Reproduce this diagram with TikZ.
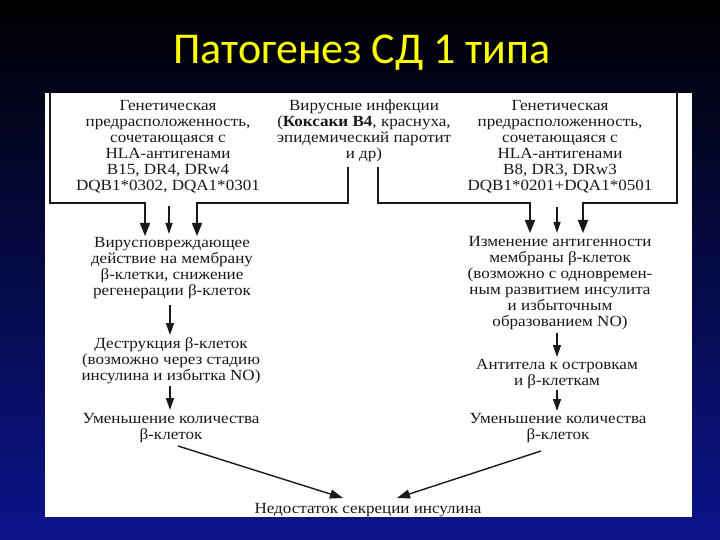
\documentclass[tikz,border=0pt]{standalone}
\usepackage{fontspec}
\setmainfont{Liberation Serif}
\newfontfamily\scanfont[FakeStretch=1.1]{Liberation Serif}
\newfontfamily\titlefont{Carlito}
\usetikzlibrary{arrows.meta}
\definecolor{bgblue}{RGB}{12,20,140}
\definecolor{ink}{RGB}{25,25,25}
\definecolor{titleyellow}{RGB}{255,255,0}
\begin{document}
\begin{tikzpicture}[x=1pt,y=-1pt,
  txt/.style={font=\scanfont\fontsize{15.5}{16}\selectfont, align=center, inner sep=0pt, text=ink},
  ln/.style={draw=ink, line width=1.7pt},
  bigarr/.style={ln, -{Triangle[length=13pt,width=10pt]}},
  smallarr/.style={draw=ink, line width=1.2pt, -{Triangle[length=11pt,width=7pt]}},
  colarr/.style={draw=ink, line width=1.4pt, -{Triangle[length=12pt,width=8pt]}},
  diag/.style={draw=ink, line width=1.4pt, -{Triangle[length=13pt,width=9pt]}}]
\useasboundingbox (0,0) rectangle (720,540);
\shade[top color=black, bottom color=bgblue] (0,0) rectangle (720,540);
\node[font=\titlefont\fontsize{44}{50}\selectfont, text=titleyellow, anchor=base] (title) at (362,64) {Патогенез СД 1 типа};
\fill[white] (45,93) rectangle (692,517);

% texts
\node[txt] (gen1) at (168,147) {Генетическая\\предрасположенность,\\сочетающаяся с\\HLA-антигенами\\B15, DR4, DRw4\\DQB1*0302, DQA1*0301};
\node[txt] (vir) at (364,131) {Вирусные инфекции\\(\textbf{Коксаки B4}, краснуха,\\эпидемический паротит\\и др)};
\node[txt] (gen2) at (560,147) {Генетическая\\предрасположенность,\\сочетающаяся с\\HLA-антигенами\\B8, DR3, DRw3\\DQB1*0201+DQA1*0501};
\node[txt] (l1) at (172,268) {Вирусповреждающее\\действие на мембрану\\β-клетки, снижение\\регенерации β-клеток};
\node[txt] (l2) at (171,361) {Деструкция β-клеток\\(возможно через стадию\\инсулина и избытка NO)};
\node[txt] (l3) at (171,428) {Уменьшение количества\\β-клеток};
\node[txt] (r1) at (560,283) {Изменение антигенности\\мембраны β-клеток\\(возможно с одновремен-\\ным развитием инсулита\\и избыточным\\образованием NO)};
\node[txt] (r2) at (557,374) {Антитела к островкам\\и β-клеткам};
\node[txt] (r3) at (558,428) {Уменьшение количества\\β-клеток};
\node[txt] (res) at (368,510) {Недостаток секреции инсулина};

% frame and bracket coordinates
\coordinate (fLt) at (50,93);
\coordinate (fLc) at (50,203);
\coordinate (aL1) at (145,203);
\coordinate (aL1t) at (145,236);
\coordinate (vLs) at (348,167);
\coordinate (vLc) at (348,203);
\coordinate (aL2) at (197,203);
\coordinate (aL2t) at (197,236);
\coordinate (mLs) at (169,206);
\coordinate (mLt) at (169,234);
\coordinate (fRt) at (677,93);
\coordinate (fRc) at (677,203);
\coordinate (aR2) at (583,203);
\coordinate (aR2t) at (583,233);
\coordinate (vRs) at (378,167);
\coordinate (vRc) at (378,203);
\coordinate (aR1) at (530,203);
\coordinate (aR1t) at (530,233);
\coordinate (mRs) at (557,207);
\coordinate (mRt) at (557,233);

\draw[bigarr] (fLt) -- (fLc) -- (aL1) -- (aL1t);
\draw[bigarr] (vLs) -- (vLc) -- (aL2) -- (aL2t);
\draw[smallarr] (mLs) -- (mLt);
\draw[bigarr] (fRt) -- (fRc) -- (aR2) -- (aR2t);
\draw[bigarr] (vRs) -- (vRc) -- (aR1) -- (aR1t);
\draw[smallarr] (mRs) -- (mRt);

% column arrows
\coordinate (c1s) at (170,305);
\coordinate (c1t) at (170,335);
\coordinate (c2s) at (170,386);
\coordinate (c2t) at (170,410);
\coordinate (c3s) at (557,333);
\coordinate (c3t) at (557,357);
\coordinate (c4s) at (557,390);
\coordinate (c4t) at (557,411);
\draw[colarr] (c1s) -- (c1t);
\draw[colarr] (c2s) -- (c2t);
\draw[colarr] (c3s) -- (c3t);
\draw[colarr] (c4s) -- (c4t);

% diagonals
\coordinate (d1s) at (178,446);
\coordinate (d1t) at (343,498);
\coordinate (d2s) at (541,451);
\coordinate (d2t) at (397,498);
\draw[diag] (d1s) -- (d1t);
\draw[diag] (d2s) -- (d2t);
\end{tikzpicture}
\end{document}
